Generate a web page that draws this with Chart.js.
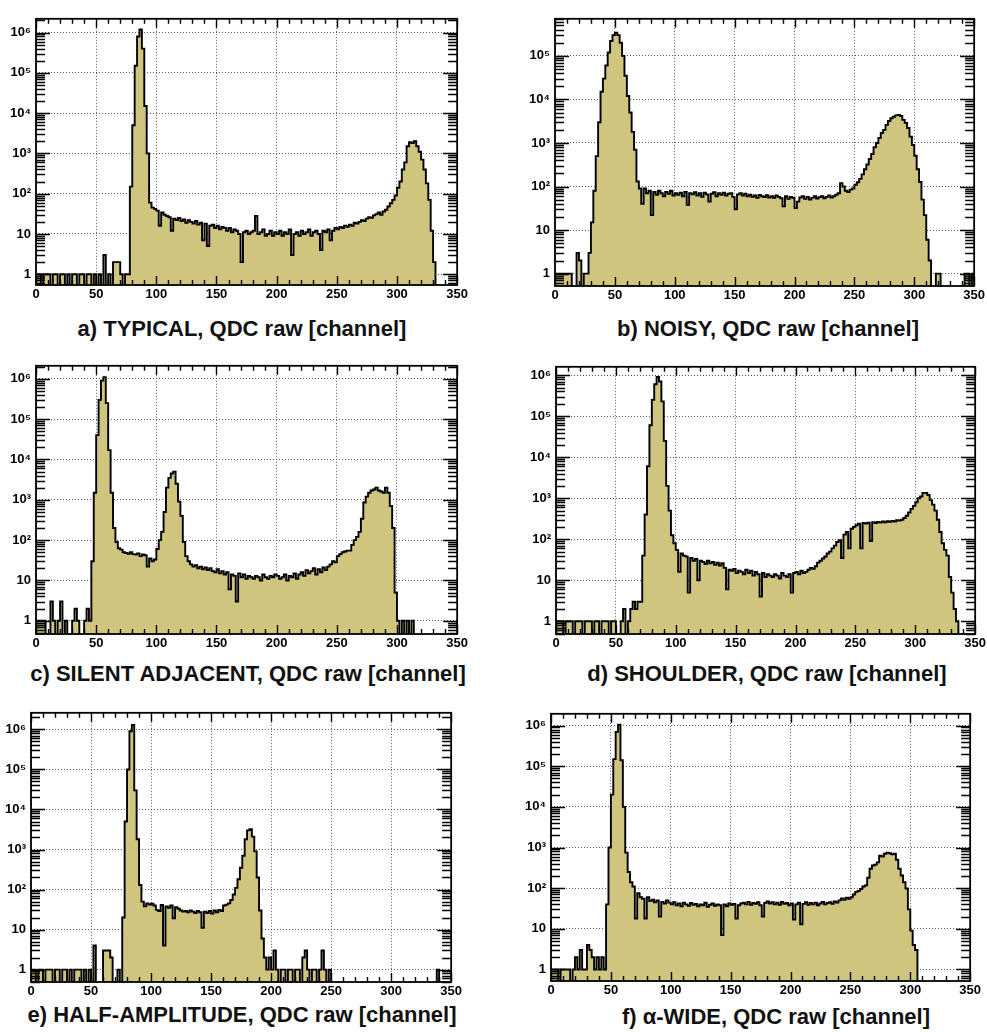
<!DOCTYPE html>
<html>
<head>
<meta charset="utf-8">
<title>QDC raw spectra</title>
<script src="https://cdn.jsdelivr.net/npm/chart.js@4.4.1/dist/chart.umd.min.js"></script>
<style>
  html, body { margin: 0; padding: 0; background: #fff; }
  #page { position: relative; width: 987px; height: 1032px; overflow: hidden; background: #fff; }
  .panel { position: absolute; }
  .caption {
    position: absolute; width: 560px; text-align: center; white-space: nowrap;
    font: bold 22px "Liberation Sans", Arial, sans-serif; line-height: 26px; color: #111;
  }
</style>
</head>
<body>
<div id="page"></div>
<script>
const BIN_WIDTH = 2;
const LAST_CHANNEL = 350;
const EMPTY_BIN = 0.1; // zero-count bins drop below the log axis floor

// counts per 2-channel bin, channels 0..349
const typical = [
  1, 1, 0, 1, 1, 1, 0, 1, 1, 0,
  1, 1, 0, 1, 0, 1, 1, 0, 1, 1,
  0, 1, 1, 0, 1, 0, 1, 0, 3, 0,
  1, 0, 2, 2, 2, 1, 0, 1, 1, 150,
  5000, 150000, 800000, 1200000, 400000, 15000, 1000, 60, 45, 42,
  38, 16, 34, 30, 28, 26, 12, 24, 22, 25,
  21, 23, 19, 22, 20, 18, 21, 17, 19, 7,
  18, 5, 16, 17, 14, 16, 13, 15, 14, 12,
  14, 11, 13, 12, 10, 2, 11, 12, 10, 11,
  12, 28, 10, 11, 13, 9, 10, 12, 9, 11,
  10, 12, 9, 11, 10, 13, 3, 10, 11, 9,
  12, 10, 11, 13, 9, 11, 12, 10, 4, 12,
  11, 13, 7, 12, 14, 13, 15, 14, 16, 15,
  17, 16, 19, 18, 20, 22, 21, 24, 26, 25,
  29, 31, 34, 30, 36, 40, 48, 58, 70, 90,
  140, 200, 400, 600, 1500, 1900, 1800, 2000, 1500, 1100,
  700, 400, 180, 70, 12, 2, 0, 0, 0, 0,
  0, 0, 0, 0, 0
];

const noisy = [
  1, 1, 1, 1, 1, 1, 1, 0, 0, 3,
  2, 0, 1, 1, 3, 15, 80, 500, 3000, 15000,
  30000, 60000, 120000, 220000, 300000, 340000, 300000, 200000, 100000, 35000,
  12000, 5000, 1800, 700, 130, 90, 40, 90, 70, 80,
  22, 75, 65, 80, 70, 60, 75, 68, 80, 62,
  70, 65, 72, 60, 75, 38, 70, 66, 74, 62,
  70, 58, 72, 66, 45, 68, 74, 60, 70, 65,
  72, 62, 68, 70, 58, 30, 66, 70, 62, 68,
  60, 65, 58, 62, 55, 64, 60, 57, 63, 56,
  60, 55, 62, 58, 54, 35, 60, 52, 58, 55,
  32, 45, 56, 60, 52, 58, 50, 55, 60, 53,
  57, 60, 54, 58, 62, 56, 60, 65, 70, 120,
  100, 80, 75, 85, 90, 110, 125, 150, 190, 250,
  320, 430, 560, 800, 1000, 1300, 1700, 2000, 2600, 3200,
  3700, 4000, 4300, 4400, 4200, 3400, 2900, 2200, 1400, 900,
  510, 250, 127, 50, 22, 6, 2, 0, 0, 1,
  1, 0, 0, 0, 0, 0, 0, 0, 0, 0,
  0, 1, 1, 0, 1
];

const silentAdjacent = [
  1, 1, 1, 1, 0, 0, 3, 1, 0, 1,
  3, 0, 1, 0, 0, 1, 2, 1, 0, 0,
  1, 2, 1, 30, 1500, 40000, 300000, 900000, 1100000, 250000,
  17000, 1500, 200, 90, 63, 58, 50, 48, 46, 50,
  45, 44, 47, 40, 44, 42, 22, 35, 30, 33,
  60, 100, 160, 500, 2000, 3500, 4500, 5000, 2500, 900,
  400, 90, 40, 30, 25, 22, 24, 20, 22, 19,
  21, 18, 20, 17, 16, 19, 15, 17, 14, 16,
  6, 14, 13, 3, 15, 12, 14, 11, 13, 12,
  11, 13, 12, 10, 14, 12, 11, 13, 12, 14,
  13, 11, 12, 14, 10, 13, 12, 15, 11, 14,
  16, 13, 18, 15, 17, 20, 14, 19, 16, 21,
  18, 22, 25, 30, 28, 40, 45, 50, 52, 55,
  55, 76, 100, 120, 160, 340, 860, 1200, 1500, 1700,
  1800, 2000, 1700, 1600, 1500, 2000, 1500, 700, 200, 5,
  1, 0, 1, 0, 1, 0, 1, 0, 0, 0,
  0, 0, 0, 0, 0, 0, 0, 0, 0, 0,
  0, 0, 0, 0, 0
];

const shoulder = [
  1, 1, 1, 0, 1, 1, 1, 0, 1, 1,
  1, 0, 1, 1, 1, 0, 1, 1, 0, 1,
  1, 1, 0, 1, 1, 0, 0, 1, 2, 0,
  1, 2, 3, 2, 3, 3, 40, 400, 6000, 60000,
  250000, 600000, 900000, 700000, 230000, 25000, 2000, 500, 125, 80,
  55, 16, 45, 40, 38, 5, 35, 30, 33, 10,
  30, 28, 25, 30, 26, 28, 24, 27, 23, 26,
  20, 6, 18, 17, 19, 15, 17, 16, 14, 18,
  15, 17, 13, 16, 14, 4, 15, 12, 14, 13,
  12, 14, 13, 11, 15, 13, 12, 14, 5, 15,
  16, 14, 17, 15, 16, 18, 20, 19, 22, 27,
  30, 34, 38, 45, 50, 60, 70, 86, 95, 35,
  130, 150, 60, 180, 200, 220, 240, 60, 250, 240,
  255, 90, 260, 250, 265, 255, 270, 260, 275, 265,
  280, 270, 290, 285, 300, 330, 375, 450, 550, 650,
  800, 1000, 1100, 1350, 1350, 1200, 900, 700, 500, 300,
  150, 80, 55, 40, 12, 5, 2, 1, 0, 0,
  0, 0, 0, 0, 0
];

const halfAmplitude = [
  1, 1, 0, 1, 1, 0, 1, 1, 1, 0,
  1, 1, 0, 1, 1, 0, 1, 0, 1, 1,
  1, 0, 1, 0, 1, 0, 4, 0, 0, 0,
  3, 3, 3, 2, 0, 0, 1, 0, 20, 5000,
  100000, 900000, 1300000, 30000, 1800, 130, 50, 38, 45, 42,
  44, 40, 31, 29, 41, 4, 38, 35, 40, 19,
  36, 33, 30, 28, 29, 27, 30, 28, 26, 29,
  27, 11, 28, 26, 29, 25, 30, 27, 31, 29,
  40, 42, 45, 55, 75, 110, 180, 350, 700, 1800,
  3000, 3200, 2100, 900, 200, 30, 6, 2, 1, 2,
  1, 3, 1, 0, 1, 1, 0, 1, 1, 0,
  1, 1, 0, 2, 3, 1, 0, 1, 1, 0,
  1, 3, 1, 0, 1, 0, 0, 0, 0, 0,
  0, 0, 0, 0, 0, 0, 0, 0, 0, 0,
  0, 0, 0, 0, 0, 0, 0, 0, 0, 0,
  0, 0, 0, 0, 0, 0, 0, 0, 0, 0,
  0, 0, 0, 0, 0, 0, 0, 0, 0, 1,
  0, 0, 0, 0, 0
];

const alphaWide = [
  1, 1, 1, 0, 1, 1, 1, 1, 0, 1,
  2, 1, 3, 1, 1, 4, 3, 2, 1, 2,
  1, 2, 1, 40, 1000, 20000, 150000, 700000, 1050000, 140000,
  10000, 750, 250, 140, 110, 18, 75, 60, 55, 18,
  60, 48, 52, 45, 50, 20, 46, 42, 50, 44,
  40, 45, 38, 42, 36, 44, 40, 37, 43, 39,
  41, 36, 40, 38, 44, 35, 39, 42, 37, 40,
  38, 7, 40, 36, 42, 39, 41, 18, 38, 42,
  44, 40, 46, 39, 43, 41, 45, 38, 20, 43,
  47, 42, 45, 40, 44, 39, 46, 41, 43, 38,
  42, 17, 40, 44, 13, 41, 45, 39, 43, 40,
  44, 38, 42, 46, 40, 43, 45, 41, 47, 44,
  50, 56, 52, 58, 55, 60, 70, 81, 85, 95,
  110, 117, 180, 300, 360, 380, 430, 630, 600, 700,
  750, 720, 680, 700, 500, 300, 205, 140, 98, 30,
  9, 4, 3, 0, 0, 0, 0, 0, 0, 0,
  0, 0, 0, 0, 0, 0, 0, 0, 0, 0,
  0, 0, 0, 0, 0
];

const channelTicks = [0, 50, 100, 150, 200, 250, 300, 350];
const decadeTicks = [1, 10, 100, 1e3, 1e4, 1e5, 1e6];
const decadeLabels = ['1', '10', '10²', '10³', '10⁴', '10⁵', '10⁶'];

// frame = [left, top, right, bottom] of the plot box, captionAt = [centre x, centre y]
const panels = [
  { counts: typical, caption: 'a) TYPICAL, QDC raw [channel]', yMin: 0.54, yMax: 2.2e6,
    frame: [36, 14, 460, 285], captionAt: [242, 329] },
  { counts: noisy, caption: 'b) NOISY, QDC raw [channel]', yMin: 0.52, yMax: 7.1e5,
    frame: [555, 14, 977, 286], captionAt: [768, 329] },
  { counts: silentAdjacent, caption: 'c) SILENT ADJACENT, QDC raw [channel]', yMin: 0.47, yMax: 2.1e6,
    frame: [36, 361, 460, 634], captionAt: [248, 674] },
  { counts: shoulder, caption: 'd) SHOULDER, QDC raw [channel]', yMin: 0.49, yMax: 1.6e6,
    frame: [556, 362, 978, 634], captionAt: [767, 674] },
  { counts: halfAmplitude, caption: 'e) HALF-AMPLITUDE, QDC raw [channel]', yMin: 0.49, yMax: 2.6e6,
    frame: [31, 708, 454, 982], captionAt: [242, 1015] },
  { counts: alphaWide, caption: 'f) α-WIDE, QDC raw [channel]', yMin: 0.52, yMax: 1.95e6,
    frame: [551, 709, 973, 981], captionAt: [776, 1017] }
];

const FILL = 'rgb(207, 197, 126)';
const GRID = '#5e5e5e';
const AXIS_W = 30;
const AXIS_H = 18;
const PAD_TOP = 8;
const PAD_RIGHT = 10;
const TICK_FONT = { family: '"Liberation Sans Narrow", "Liberation Sans", Arial, sans-serif', size: 13, weight: 'bold' };

function toSteps(counts) {
  const pts = counts.map((c, i) => ({ x: i * BIN_WIDTH, y: c > 0 ? c : EMPTY_BIN }));
  pts.push({ x: LAST_CHANNEL, y: pts[pts.length - 1].y });
  return pts;
}

// box frame plus the inward tick marks on all four sides
const frameTicks = {
  id: 'frameTicks',
  afterDatasetsDraw(chart) {
    const { ctx, chartArea: area, scales: { x, y } } = chart;
    ctx.save();
    ctx.strokeStyle = '#000';
    ctx.lineWidth = 1.4;
    ctx.beginPath();
    for (let c = 0; c <= LAST_CHANNEL; c += 10) {
      const px = Math.round(x.getPixelForValue(c)) + 0.5;
      const len = c % 50 === 0 ? 9 : 5;
      ctx.moveTo(px, area.bottom);
      ctx.lineTo(px, area.bottom - len);
      ctx.moveTo(px, area.top);
      ctx.lineTo(px, area.top + len);
    }
    const lo = Math.floor(Math.log10(y.min));
    const hi = Math.ceil(Math.log10(y.max));
    for (let e = lo; e <= hi; e++) {
      for (let k = 1; k <= 9; k++) {
        const v = k * Math.pow(10, e);
        if (v < y.min || v > y.max) continue;
        const py = Math.round(y.getPixelForValue(v)) + 0.5;
        const len = k === 1 ? 14 : 9;
        ctx.moveTo(area.left, py);
        ctx.lineTo(area.left + len, py);
        ctx.moveTo(area.right, py);
        ctx.lineTo(area.right - len, py);
      }
    }
    ctx.stroke();
    ctx.lineWidth = 1.8;
    ctx.strokeRect(area.left, area.top, area.right - area.left, area.bottom - area.top);
    ctx.restore();
  }
};

function drawPanel(page, p) {
  const [left, top, right, bottom] = p.frame;
  const width = right - left + AXIS_W + PAD_RIGHT;
  const height = bottom - top + PAD_TOP + AXIS_H;

  const box = document.createElement('div');
  box.className = 'panel';
  box.style.left = (left - AXIS_W) + 'px';
  box.style.top = (top - PAD_TOP) + 'px';
  const canvas = document.createElement('canvas');
  canvas.width = width;
  canvas.height = height;
  canvas.style.width = width + 'px';
  canvas.style.height = height + 'px';
  box.appendChild(canvas);
  page.appendChild(box);

  const caption = document.createElement('div');
  caption.className = 'caption';
  caption.textContent = p.caption;
  caption.style.left = (p.captionAt[0] - 280) + 'px';
  caption.style.top = (p.captionAt[1] - 13) + 'px';
  page.appendChild(caption);

  new Chart(canvas, {
    type: 'line',
    data: {
      datasets: [{
        data: toSteps(p.counts),
        stepped: true,
        fill: 'start',
        backgroundColor: FILL,
        borderColor: '#000',
        borderWidth: 1.9,
        pointRadius: 0,
        tension: 0
      }]
    },
    options: {
      responsive: false,
      animation: false,
      events: [],
      layout: { padding: { top: PAD_TOP, right: PAD_RIGHT, left: 0, bottom: 0 } },
      plugins: { legend: { display: false }, tooltip: { enabled: false } },
      scales: {
        x: {
          type: 'linear',
          min: 0,
          max: LAST_CHANNEL,
          afterBuildTicks: s => { s.ticks = channelTicks.map(v => ({ value: v })); },
          afterFit: s => { s.height = AXIS_H; },
          ticks: { font: TICK_FONT, color: '#000', padding: 2, maxRotation: 0, autoSkip: false },
          grid: { color: GRID, lineWidth: 1, drawTicks: false },
          border: { display: false, dash: [1, 2] }
        },
        y: {
          type: 'logarithmic',
          min: p.yMin,
          max: p.yMax,
          bounds: 'data',
          afterBuildTicks: s => {
            s.ticks = decadeTicks.filter(v => v >= p.yMin && v <= p.yMax).map(v => ({ value: v }));
          },
          afterFit: s => { s.width = AXIS_W; },
          ticks: {
            font: TICK_FONT,
            color: '#000',
            padding: 5,
            autoSkip: false,
            callback: v => decadeLabels[decadeTicks.indexOf(v)]
          },
          grid: { color: GRID, lineWidth: 1, drawTicks: false },
          border: { display: false, dash: [1, 2] }
        }
      }
    },
    plugins: [frameTicks]
  });
}

const page = document.getElementById('page');
panels.forEach(p => drawPanel(page, p));
</script>
</body>
</html>
